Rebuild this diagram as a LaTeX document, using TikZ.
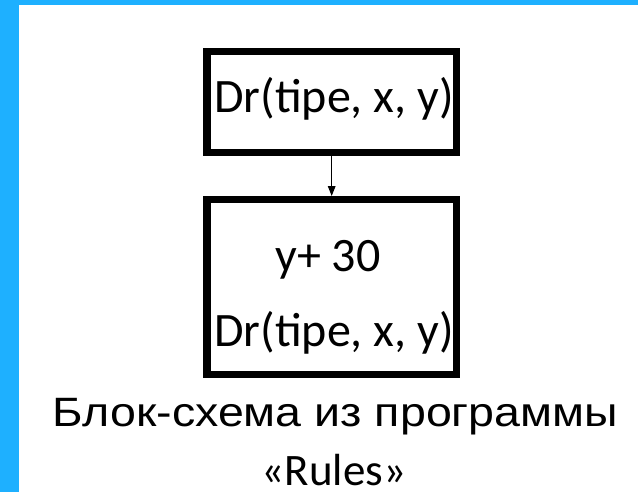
\documentclass[tikz,border=0pt]{standalone}
\usepackage{fontspec}
\newfontfamily\calib{Carlito}
\newfontfamily\arialf{Liberation Sans}
\usetikzlibrary{positioning, arrows.meta}
\definecolor{slideblue}{RGB}{30,176,255}

\begin{document}
\begin{tikzpicture}[x=1pt, y=-1pt, >={Triangle[length=10pt,width=7.5pt]},
  block/.style={draw, line width=7.3pt, inner sep=0pt},
  blocktext/.style={anchor=base, inner sep=0pt, font=\calib\fontsize{48}{58}\selectfont},
  caption/.style={anchor=base, inner sep=0pt}]
\useasboundingbox (0,0) rectangle (638,492);
\fill [slideblue] (0,0) rectangle (638,5);
\fill [slideblue] (0,0) rectangle (19,492);
% boxes
\node [block, minimum width=249.3pt, minimum height=101.2pt] (first) at (331.7,102) {};
\node [block, minimum width=249.3pt, minimum height=174.9pt] (second) at (331.7,287.2) {};
\draw [line width=1.4pt, ->] (first.south) -- (second.north);
% texts
\node [blocktext] (first-text) at (334,112.5) {Dr(tipe, x, y)};
\foreach \l/\x/\y [count=\i] in {y+ 30/328/272, {Dr(tipe, x, y)}/334/346.4}
  \node [blocktext] (second-text-\i) at (\x,\y) {\l};
\node [caption, xscale=1.135, font=\arialf\fontsize{41}{49}\selectfont] (caption-1) at (335.4,426) {Блок-схема из программы};
\node [caption, font=\calib\fontsize{45}{54}\selectfont] (caption-2) at (334,485) {«Rules»};
\end{tikzpicture}
\end{document}
